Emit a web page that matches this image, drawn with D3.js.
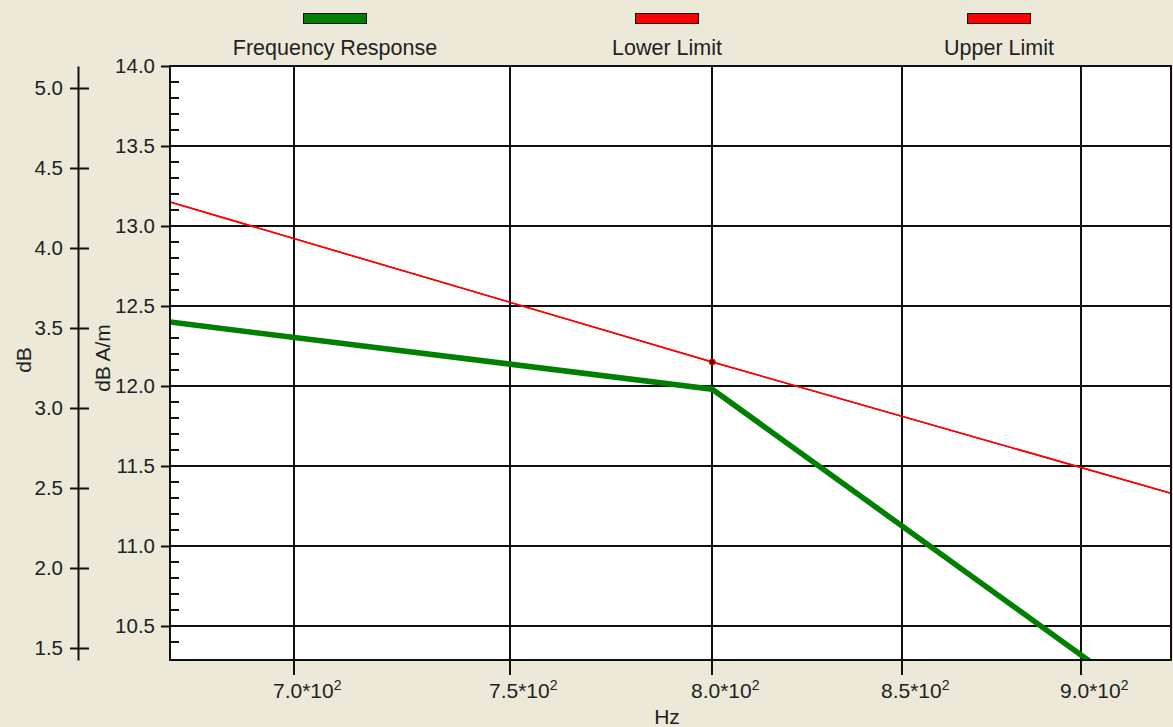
<!DOCTYPE html>
<html>
<head>
<meta charset="utf-8">
<script src="https://cdn.jsdelivr.net/npm/d3@7"></script>
<style>
  html, body { margin: 0; padding: 0; background: #ECE9D8; }
  svg { display: block; font-family: "Liberation Sans", Arial, sans-serif; }
</style>
</head>
<body>
<svg id="chart" width="1173" height="727"></svg>
<script>
// Frequency axis (Hz, log scale) and the two value axes
const freqDomain = [672.9, 926.1];
const dbAmDomain = [10.2875, 14.0];
const dbDomain = [1.425, 5.1375];
const freqTicks = [700, 750, 800, 850, 900];
const freqTickLabels = ["7.0*10", "7.5*10", "8.0*10", "8.5*10", "9.0*10"];
const dbAmTicks = [10.5, 11.0, 11.5, 12.0, 12.5, 13.0, 13.5, 14.0];
const dbTicks = [1.5, 2.0, 2.5, 3.0, 3.5, 4.0, 4.5, 5.0];

// Series
const responseFreq = [672.9, 800, 912];
const responseDb = [12.40, 11.98, 10.13];
const lowerFreq = [672.9, 800, 926.1];
const lowerDb = [13.15, 12.15, 11.33];
const upperFreq = [672.9, 800, 926.1];
const upperDb = [13.15, 12.15, 11.33];
const markerFreq = [800];
const markerDb = [12.15];

const legendNames = ["Frequency Response", "Lower Limit", "Upper Limit"];
const legendColors = ["#008000", "#FF0000", "#FF0000"];

const svg = d3.select("#chart");
const plot = { left: 170, right: 1171, top: 66, bottom: 660 };

const x = d3.scaleLog().domain(freqDomain).range([plot.left, plot.right]);
const y = d3.scaleLinear().domain(dbAmDomain).range([plot.bottom, plot.top]);
const yL = d3.scaleLinear().domain(dbDomain).range([plot.bottom, plot.top]);

// plot background
svg.append("rect")
  .attr("x", plot.left).attr("y", plot.top)
  .attr("width", plot.right - plot.left).attr("height", plot.bottom - plot.top)
  .attr("fill", "#fff");

svg.append("clipPath").attr("id", "clip")
  .append("rect")
  .attr("x", plot.left).attr("y", plot.top)
  .attr("width", plot.right - plot.left).attr("height", plot.bottom - plot.top);

// grid
const grid = svg.append("g").attr("stroke", "#111").attr("stroke-width", 2);
grid.selectAll(".hg").data(dbAmTicks).join("line")
  .attr("x1", plot.left).attr("x2", plot.right)
  .attr("y1", d => Math.round(y(d))).attr("y2", d => Math.round(y(d)));
grid.selectAll(".vg").data(freqTicks).join("line")
  .attr("x1", d => Math.round(x(d))).attr("x2", d => Math.round(x(d)))
  .attr("y1", plot.top).attr("y2", plot.bottom + 15);

// minor ticks on the dB A/m axis (inside the plot)
const minor = d3.range(10.4, 14.0, 0.1).map(v => +v.toFixed(1))
  .filter(v => Math.abs(v * 2 - Math.round(v * 2)) > 1e-6);
svg.append("g").attr("stroke", "#111").attr("stroke-width", 2)
  .selectAll("line").data(minor).join("line")
  .attr("x1", plot.left).attr("x2", plot.left + 9)
  .attr("y1", d => Math.round(y(d))).attr("y2", d => Math.round(y(d)));

// dB A/m axis
const rightAxis = svg.append("g")
  .attr("transform", `translate(${plot.left},0)`)
  .call(d3.axisLeft(y).tickValues(dbAmTicks).tickFormat(d3.format(".1f"))
    .tickSizeOuter(0).tickSizeInner(9).tickPadding(6));
rightAxis.select(".domain").remove();
rightAxis.selectAll("line").attr("stroke", "#111").attr("stroke-width", 2);
rightAxis.selectAll("text").attr("font-size", 20.5).attr("fill", "#222")
  .attr("font-family", "Liberation Sans, Arial, sans-serif");

// dB axis
const leftAxis = svg.append("g")
  .attr("transform", "translate(78,0)")
  .call(d3.axisLeft(yL).tickValues(dbTicks).tickFormat(d3.format(".1f"))
    .tickSizeOuter(0).tickSizeInner(8).tickPadding(7));
leftAxis.select(".domain").attr("stroke", "#111").attr("stroke-width", 2);
leftAxis.selectAll(".tick line").attr("x1", 11).attr("stroke", "#111").attr("stroke-width", 2);
leftAxis.selectAll("text").attr("font-size", 20.5).attr("fill", "#222")
  .attr("font-family", "Liberation Sans, Arial, sans-serif");

// frequency tick labels with superscript exponent
const xl = svg.append("g").attr("font-size", 21).attr("fill", "#222");
freqTicks.forEach((f, i) => {
  const t = xl.append("text").attr("x", Math.round(x(f)) - 21).attr("y", 698);
  t.append("tspan").text(freqTickLabels[i]);
  t.append("tspan").attr("dy", -8).attr("font-size", 14).text("2");
});

// axis titles
svg.append("text").attr("x", 667).attr("y", 724).attr("text-anchor", "middle")
  .attr("font-size", 21).attr("fill", "#222").text("Hz");
svg.append("text").attr("transform", "translate(31,360) rotate(-90)")
  .attr("text-anchor", "middle").attr("font-size", 21).attr("fill", "#222").text("dB");
svg.append("text").attr("transform", "translate(110,358) rotate(-90)")
  .attr("text-anchor", "middle").attr("font-size", 21).attr("fill", "#222").text("dB A/m");

// series
const lineGen = d3.line().x(d => x(d[0])).y(d => y(d[1]));
const series = svg.append("g").attr("clip-path", "url(#clip)");
series.append("path").datum(d3.zip(upperFreq, upperDb))
  .attr("d", lineGen).attr("fill", "none").attr("stroke", "#FF0000").attr("stroke-width", 1.5);
series.append("path").datum(d3.zip(lowerFreq, lowerDb))
  .attr("d", lineGen).attr("fill", "none").attr("stroke", "#FF0000").attr("stroke-width", 1.5);
series.append("path").datum(d3.zip(responseFreq, responseDb))
  .attr("d", lineGen).attr("fill", "none").attr("stroke", "#008000").attr("stroke-width", 5.5);
series.selectAll("circle").data(d3.zip(markerFreq, markerDb)).join("circle")
  .attr("cx", d => x(d[0])).attr("cy", d => y(d[1])).attr("r", 3)
  .attr("fill", "#600").attr("stroke", "#FF0000").attr("stroke-width", 1);

// plot frame
svg.append("rect")
  .attr("x", plot.left).attr("y", plot.top)
  .attr("width", plot.right - plot.left).attr("height", plot.bottom - plot.top)
  .attr("fill", "none").attr("stroke", "#111").attr("stroke-width", 2);

// legend
const legendX = d3.scalePoint().domain(legendNames).range([335, 999]);
const lg = svg.append("g");
legendNames.forEach((name, i) => {
  const cx = legendX(name);
  lg.append("rect").attr("x", cx - 31.5).attr("y", 13.5).attr("width", 63).attr("height", 10)
    .attr("fill", legendColors[i]).attr("stroke", "#111").attr("stroke-width", 1);
  lg.append("text").attr("x", cx).attr("y", 55).attr("text-anchor", "middle")
    .attr("font-size", 21.5).attr("fill", "#222").text(name);
});
</script>
</body>
</html>
